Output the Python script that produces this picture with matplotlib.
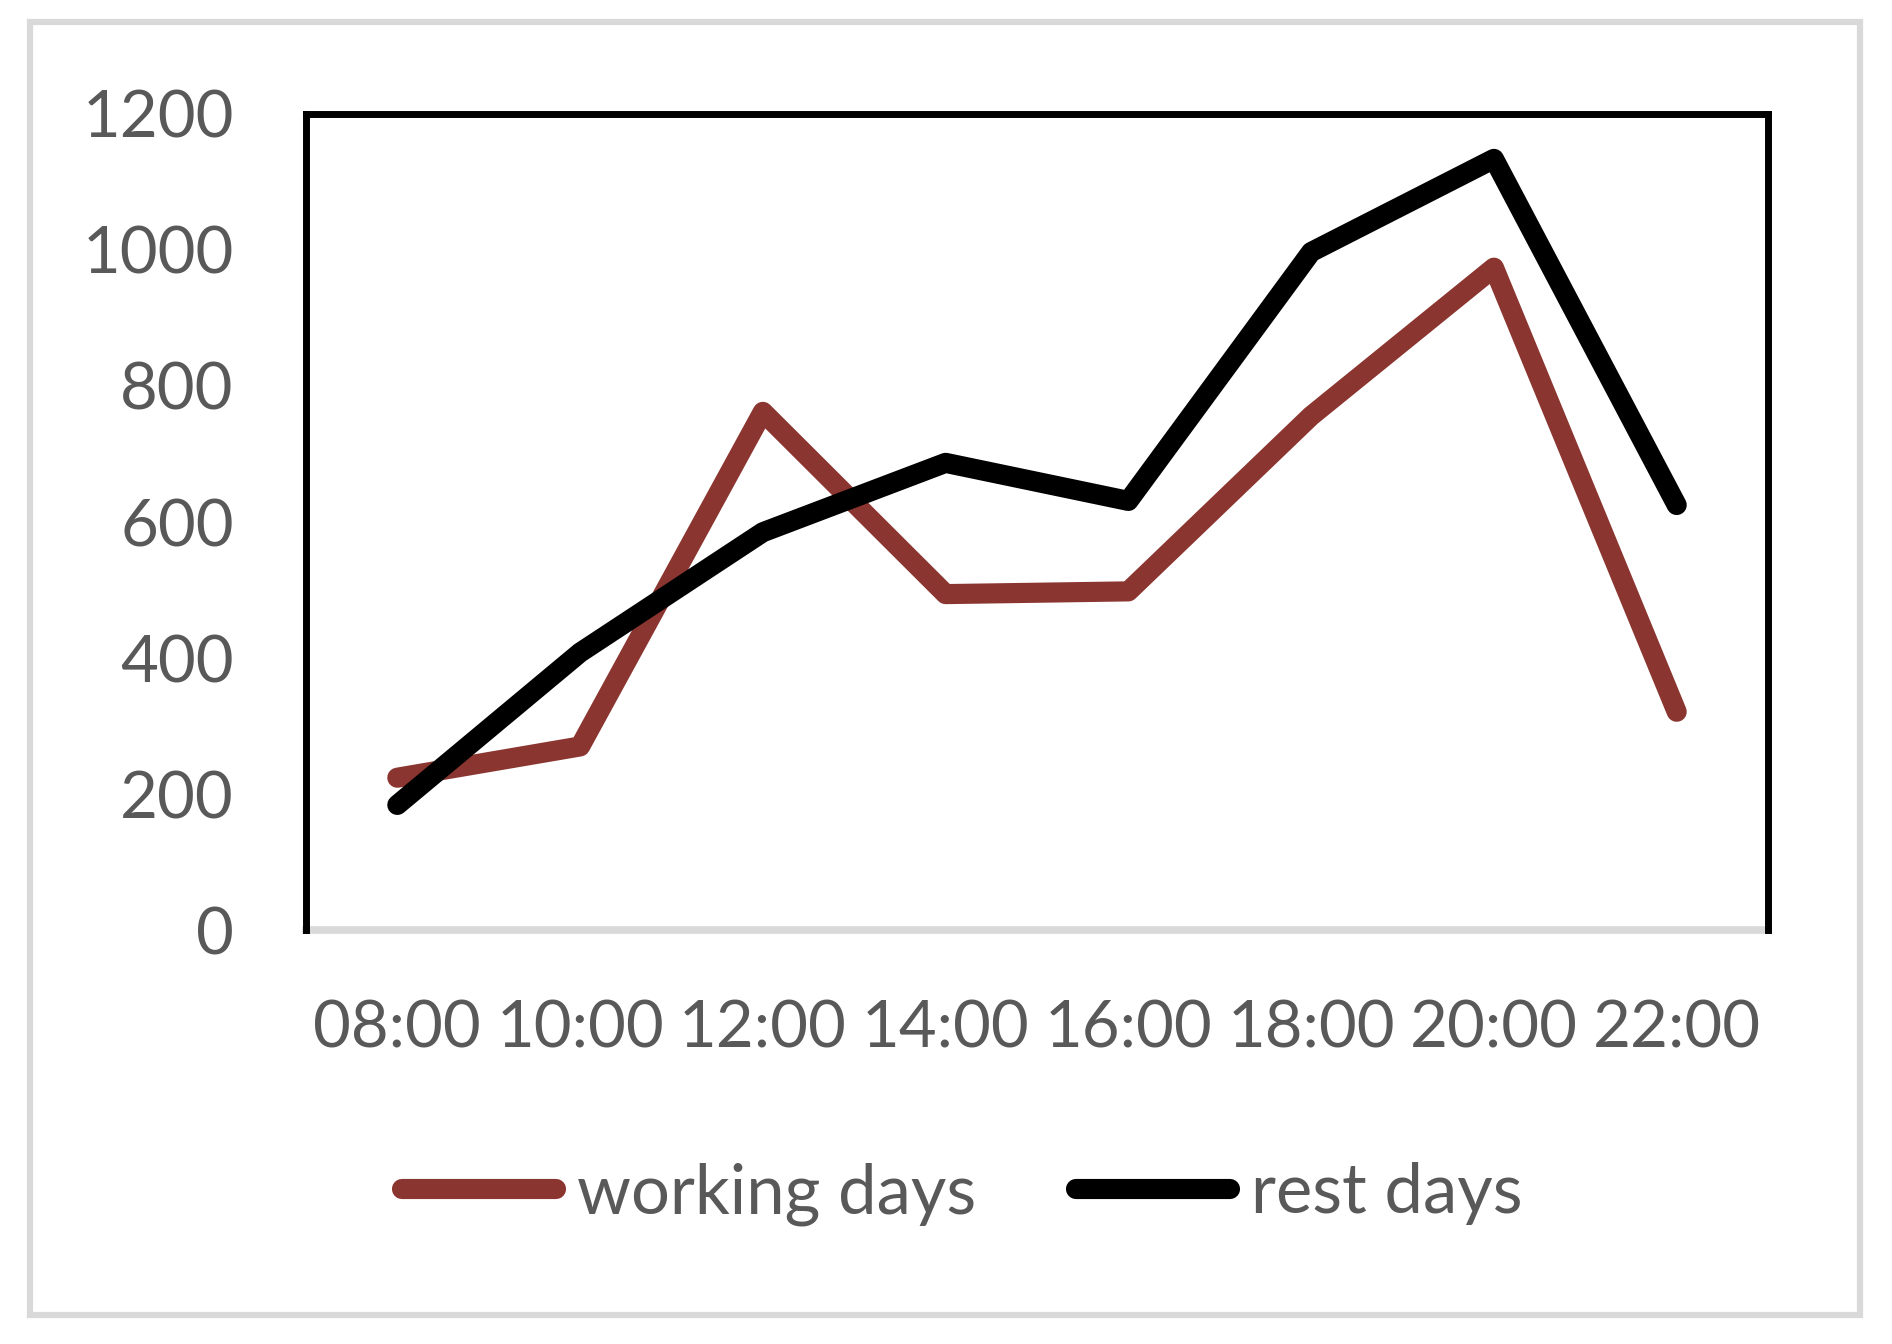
import matplotlib
matplotlib.use("Agg")
import matplotlib.pyplot as plt
from matplotlib.patches import Rectangle

hours = ["08:00", "10:00", "12:00", "14:00", "16:00", "18:00", "20:00", "22:00"]
working_days = [224, 270, 762, 494, 498, 756, 974, 321]
rest_days = [184, 408, 585, 687, 631, 997, 1134, 625]
y_ticks = [0, 200, 400, 600, 800, 1000, 1200]

TXT = "#595959"
BROWN = "#8B3530"
GRID = "#D9D9D9"

plt.rcParams["font.family"] = ["Lato", "DejaVu Sans"]

fig = plt.figure(figsize=(18.92, 13.44), dpi=100)
ax = fig.add_axes([0.1617, 0.308, 0.9345 - 0.1617, 0.9152 - 0.308])

x = list(range(len(hours)))
lw = 14.5
ax.plot(x, working_days, color=BROWN, lw=lw, solid_capstyle="round",
        solid_joinstyle="round", label="working days")
ax.plot(x, rest_days, color="black", lw=lw, solid_capstyle="round",
        solid_joinstyle="round", label="rest days")

ax.set_xlim(-0.5, len(hours) - 0.5)
ax.set_ylim(0, 1200)
ax.set_xticks(x)
ax.set_xticklabels(hours)
ax.set_yticks(y_ticks)
ax.tick_params(length=0, labelsize=47, labelcolor=TXT)
ax.tick_params(axis="y", pad=52)
ax.tick_params(axis="x", pad=50)

for side in ("left", "top", "right"):
    ax.spines[side].set_color("black")
    ax.spines[side].set_linewidth(5)
ax.spines["bottom"].set_color(GRID)
ax.spines["bottom"].set_linewidth(5.5)
ax.spines["bottom"].set_zorder(0.5)

leg = ax.legend(loc="center", bbox_to_anchor=(0.5085, (1344 - 1194) / 1344),
                bbox_transform=fig.transFigure, ncol=2, frameon=False,
                fontsize=49.5, handlelength=2.25, handletextpad=0.3,
                columnspacing=1.45, borderaxespad=0)
for t in leg.get_texts():
    t.set_color(TXT)

# outer chart border
fig.patches.append(Rectangle((30 / 1892, 1 - 1315 / 1344), 1830 / 1892, 1293.5 / 1344,
                             transform=fig.transFigure, fill=False,
                             edgecolor=GRID, lw=4.5))

fig.savefig("out.png", dpi=100, facecolor="white")
